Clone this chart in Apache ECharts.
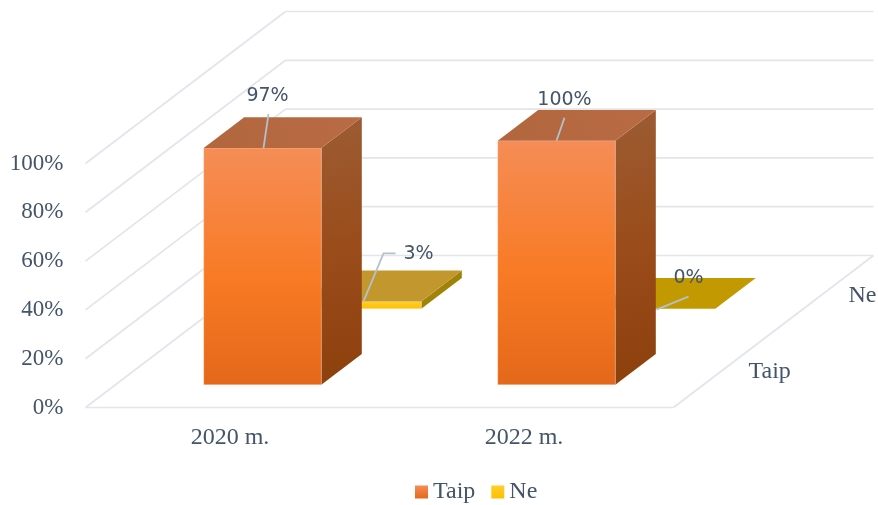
<!DOCTYPE html>
<html>
<head>
<meta charset="utf-8">
<style>html,body{margin:0;padding:0;background:#fff}#c{width:878px;height:505px}</style>
<script src="https://cdn.jsdelivr.net/npm/echarts@6/dist/echarts.min.js"></script>
</head>
<body>
<div id="c"></div>
<script>
const categories = ['2020 m.', '2022 m.'];
const depthLabels = ['Taip', 'Ne'];
const taipValues = [97, 100];
const neValues = [3, 0];
const yTicks = [0, 20, 40, 60, 80, 100];

const DEPTH_X = 200, DEPTH_Y = -152, ROW = 100, BAR_START = 30, BAR_END = 70.5;
const SERIF = '"Liberation Serif","Times New Roman",serif';
const SANS = '"DejaVu Sans",sans-serif';
const TXT = '#44546a', GRID = '#e2e5ea', LEADER = '#b4c0ce';
const lin = (x, y, x2, y2, stops) => ({type:'linear',x,y,x2,y2,colorStops:stops.map((c,i)=>({offset:Array.isArray(c)?c[0]:i/(stops.length-1),color:Array.isArray(c)?c[1]:c}))});

const palette = {
  Taip: {
    front: lin(0,0,0,1,[[0,'#f58d56'],[0.55,'#f87a24'],[1,'#e4681a']]),
    side: lin(0,0,1,1,['#9c5c33','#9a4c1a','#8c400c']),
    top: () => lin(0,1,1,0,['#b2663d','#b96c44']),
    legend: lin(0,0,0,1,['#f58d56','#e4681a'])
  },
  Ne: {
    front: lin(0,0,0,1,['#ffcf2b','#fdc000']),
    side: lin(0,0,1,1,['#a88a10','#9a7b00']),
    top: v => v > 0 ? '#c2982e' : '#c29a00',
    legend: lin(0,0,0,1,['#ffcf2b','#fdc000'])
  }
};

// leader line points and text centre, relative to the centre of the bar's front top edge
const leaders = {
  Taip: [{line:[[1,0],[6,-34]], text:[5,-52]}, {line:[[0,0],[8,-23]], text:[8,-41]}],
  Ne:   [{line:[[1,0],[21,-48],[33,-48]], text:[56,-47]}, {line:[[0,1],[32,-12]], text:[32,-31]}]
};

function barRenderer(name, row) {
  return function (params, api) {
    const idx = params.dataIndex, value = api.value(1);
    const half = api.size([1, 0])[0] * 0.2;
    const c0 = api.coord([idx, 0]), cv = api.coord([idx, value]);
    const k = DEPTH_Y / DEPTH_X;
    const P = (base, sx, d) => [base[0] + sx + d, base[1] + d * k];
    const d0 = ROW * row + BAR_START, d1 = ROW * row + BAR_END;
    const pal = palette[name];
    const poly = (pts, fill, z2) => ({type:'polygon', z2: z2 || 1, shape:{points:pts}, style:{fill, stroke:fill === pal.front ? 'rgba(255,255,255,0.25)' : null, lineWidth:fill === pal.front ? 1 : 0}});
    const children = [];
    if (value > 0) {
      children.push(poly([P(cv,half,d0),P(cv,half,d1),P(c0,half,d1),P(c0,half,d0)], pal.side));
      children.push(poly([P(cv,-half,d0),P(cv,half,d0),P(c0,half,d0),P(c0,-half,d0)], pal.front));
    }
    children.push(poly([P(cv,-half,d0),P(cv,half,d0),P(cv,half,d1),P(cv,-half,d1)], pal.top(value)));
    const anchor = P(cv, 0, d0), lead = leaders[name][idx];
    children.push({type:'polyline', z2:5, shape:{points:lead.line.map(p=>[anchor[0]+p[0],anchor[1]+p[1]])}, style:{fill:null, stroke:LEADER, lineWidth:1.8}});
    children.push({type:'text', z2:6, style:{x:anchor[0]+lead.text[0], y:anchor[1]+lead.text[1], text:Math.round(value)+'%', font:'19px '+SANS, fill:TXT, align:'center', verticalAlign:'middle'}});
    return {type:'group', children};
  };
}

function wallRenderer(params, api) {
  const v = api.value(1), band = api.size([1, 0])[0];
  const c = api.coord([0, v]);
  const left = c[0] - band / 2, right = left + band * categories.length, y = c[1];
  const line = (x1, y1, x2, y2) => ({type:'line', shape:{x1,y1,x2,y2}, style:{stroke:GRID, lineWidth:1.7, fill:null}});
  const ch = [line(left, y, left + DEPTH_X, y + DEPTH_Y), line(left + DEPTH_X, y + DEPTH_Y, right + DEPTH_X, y + DEPTH_Y)];
  if (v === 0) {
    ch.push(line(left, y, right, y));
    ch.push(line(right, y, right + DEPTH_X, y + DEPTH_Y));
  }
  return {type:'group', children:ch};
}

function depthLabelRenderer(params, api) {
  const band = api.size([1, 0])[0];
  const c = api.coord([categories.length - 1, 0]);
  const right = c[0] + band / 2, d = ROW * params.dataIndex + ROW / 2;
  return {type:'text', style:{x:right + d + 25, y:c[1] + d * DEPTH_Y / DEPTH_X + 2, text:depthLabels[params.dataIndex], font:'24px '+SERIF, fill:TXT, align:'left', verticalAlign:'middle'}};
}

const chart = echarts.init(document.getElementById('c'), null, {renderer:'canvas'});
chart.setOption({
  animation:false,
  backgroundColor:'#fff',
  grid:{left:85.5, right:204.5, top:163.5, bottom:97.5, containLabel:false},
  xAxis:{type:'category', data:categories, boundaryGap:true, axisLine:{show:false}, axisTick:{show:false}, splitLine:{show:false},
    axisLabel:{margin:18, color:TXT, fontFamily:SERIF, fontSize:24, padding:[0,5,0,0]}},
  yAxis:{type:'value', min:0, max:100, interval:20, axisLine:{show:false}, axisTick:{show:false}, splitLine:{show:false},
    axisLabel:{margin:22, color:TXT, fontFamily:SERIF, fontSize:23, padding:[7,0,0,0], formatter:'{value}%'}},
  legend:{data:['Taip','Ne'], left:410, top:475, itemWidth:13, itemHeight:13, itemGap:16, icon:'rect',
    textStyle:{color:TXT, fontFamily:SERIF, fontSize:24, padding:[2,0,0,0]}},
  series:[
    {type:'custom', name:'walls', silent:true, z:1, renderItem:wallRenderer, data:yTicks.map(v=>[0,v])},
    {type:'custom', name:'depth', silent:true, z:1, renderItem:depthLabelRenderer, data:depthLabels.map(()=>[0,0])},
    {type:'custom', name:'Ne', z:2, renderItem:barRenderer('Ne',1), itemStyle:{color:palette.Ne.legend}, data:neValues.map((v,i)=>[i,v])},
    {type:'custom', name:'Taip', z:3, renderItem:barRenderer('Taip',0), itemStyle:{color:palette.Taip.legend}, data:taipValues.map((v,i)=>[i,v])}
  ]
});
</script>
</body>
</html>
